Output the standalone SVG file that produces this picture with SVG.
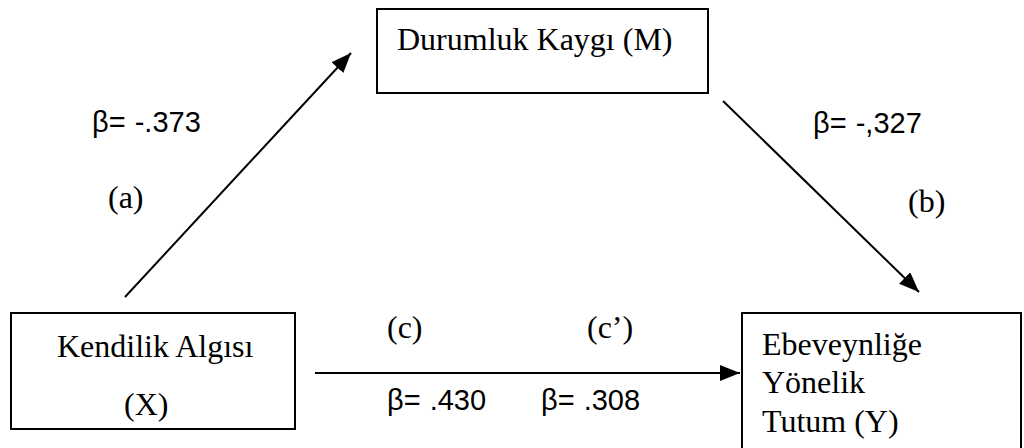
<svg xmlns="http://www.w3.org/2000/svg" width="1024" height="448" viewBox="0 0 1024 448">
<style>
.box{fill:#fff;stroke:#000;stroke-width:2}
.t{font-family:"Liberation Serif","Times New Roman",serif;font-size:32px;fill:#000}
.b{font-family:"Liberation Sans",Arial,sans-serif;font-size:29px;fill:#000;word-spacing:1px}
.c{stroke:#000;stroke-width:2;fill:none}
</style>
<defs>
<marker id="ah" markerUnits="userSpaceOnUse" markerWidth="22" markerHeight="16" refX="20" refY="8" orient="auto">
<path d="M0,0 L20,8 L0,16 Z" fill="#000"/>
</marker>
</defs>
<rect width="1024" height="448" fill="#fff"/>
<g id="node-M">
<rect class="box" x="377" y="9" width="331" height="84"/>
<text class="t" x="397" y="50">Durumluk Kaygı (M)</text>
</g>
<g id="node-X">
<rect class="box" x="11" y="313" width="284" height="116"/>
<text class="t" x="57" y="357">Kendilik Algısı</text>
<text class="t" x="124" y="415">(X)</text>
</g>
<g id="node-Y">
<rect class="box" x="742" y="313" width="279" height="140"/>
<text class="t" x="762" y="355">Ebeveynliğe</text>
<text class="t" x="762" y="393">Yönelik</text>
<text class="t" x="762" y="432">Tutum (Y)</text>
</g>
<g id="connectors">
<line class="c" x1="125" y1="297" x2="351" y2="53" marker-end="url(#ah)"/>
<line class="c" x1="723" y1="101" x2="919" y2="292" marker-end="url(#ah)"/>
<line class="c" x1="315" y1="373" x2="740" y2="373" marker-end="url(#ah)"/>
</g>
<g id="labels">
<text class="b" x="92" y="132">β= -.373</text>
<text class="t" x="108" y="208">(a)</text>
<text class="b" x="813" y="133">β= -,327</text>
<text class="t" x="908" y="212">(b)</text>
<text class="t" x="387" y="338">(c)</text>
<text class="t" x="587" y="338">(c’)</text>
<text class="b" x="387" y="410">β= .430</text>
<text class="b" x="541" y="410">β= .308</text>
</g>
</svg>
